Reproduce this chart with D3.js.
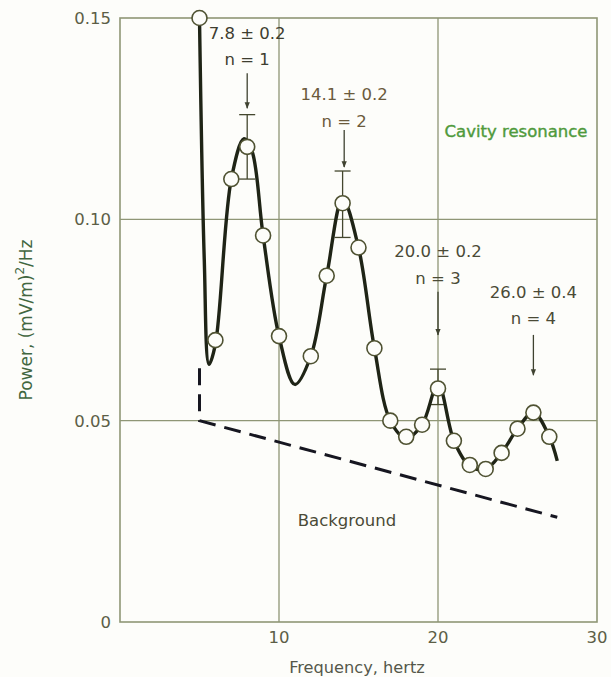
<!DOCTYPE html>
<html>
<head>
<meta charset="utf-8">
<script src="https://cdn.jsdelivr.net/npm/d3@7"></script>
<style>
  body { margin: 0; background: #fdfdfa; }
  text { font-family: "DejaVu Sans", sans-serif; }
</style>
</head>
<body>
<svg></svg>
<script>
// Chart size
const width = 611;
const height = 677;

// Measured points (frequency, power)
const freq = [5, 6, 7, 8, 9, 10, 12, 13, 14, 15, 16, 17, 18, 19, 20, 21, 22, 23, 24, 25, 26, 27];
const power = [0.150, 0.070, 0.110, 0.118, 0.096, 0.071, 0.066, 0.086, 0.104, 0.093, 0.068, 0.050, 0.046, 0.049, 0.058, 0.045, 0.039, 0.038, 0.042, 0.048, 0.052, 0.046];

// Hand drawn smooth curve through the points
const curveFreq = [5, 5.3, 5.6, 6, 7, 7.8, 8.3, 9, 10, 11, 12, 13, 14, 15, 16, 17, 18, 19, 20, 21, 22, 23, 24, 25, 26, 27, 27.5];
const curvePower = [0.150, 0.090, 0.064, 0.069, 0.110, 0.120, 0.117, 0.096, 0.071, 0.059, 0.066, 0.086, 0.105, 0.093, 0.068, 0.050, 0.0457, 0.049, 0.059, 0.045, 0.0387, 0.038, 0.042, 0.048, 0.052, 0.046, 0.040];

// Background (dashed)
const bgFreq = [5, 5, 27.5];
const bgPower = [0.063, 0.050, 0.026];

// Error bars
const errFreq = [8, 14, 20];
const errLow = [0.110, 0.0955, 0.054];
const errHigh = [0.126, 0.112, 0.0628];

// Resonance annotations
const resFreq = [8, 14.1, 20, 26];
const resLabel = ["7.8 \u00b1 0.2", "14.1 \u00b1 0.2", "20.0 \u00b1 0.2", "26.0 \u00b1 0.4"];
const resMode = ["n = 1", "n = 2", "n = 3", "n = 4"];
const resTextTop = [0.1448, 0.1296, 0.0906, 0.0805];   // baseline of first text line
const resArrowFrom = [0.1363, 0.1222, 0.0820, 0.0713];
const resArrowTo = [0.1276, 0.1130, 0.0713, 0.0613];
const resColor = ["#3e3e30", "#6b5a3c", "#4a4a36", "#4a4a36"];

// Axis ticks
const xTicks = [10, 20, 30];
const yTicks = [0, 0.05, 0.10, 0.15];

const svg = d3.select("svg")
  .attr("width", width)
  .attr("height", height);

const x = d3.scaleLinear().domain([0, 30]).range([120, 597]);
const y = d3.scaleLinear().domain([0, 0.15]).range([622, 18]);

const gridColor = "#8f9676";
const inkColor = "#1f2416";

// Grid lines
svg.append("g")
  .selectAll("line")
  .data(xTicks.slice(0, 2))
  .enter().append("line")
  .attr("x1", d => x(d)).attr("x2", d => x(d))
  .attr("y1", y(0)).attr("y2", y(0.15))
  .attr("stroke", gridColor).attr("stroke-width", 1.3);

svg.append("g")
  .selectAll("line")
  .data(yTicks.slice(1, 3))
  .enter().append("line")
  .attr("x1", x(0)).attr("x2", x(30))
  .attr("y1", d => y(d)).attr("y2", d => y(d))
  .attr("stroke", gridColor).attr("stroke-width", 1.3);

// Frame
svg.append("rect")
  .attr("x", x(0)).attr("y", y(0.15))
  .attr("width", x(30) - x(0)).attr("height", y(0) - y(0.15))
  .attr("fill", "none")
  .attr("stroke", gridColor).attr("stroke-width", 1.6);

// Tick labels
svg.append("g")
  .selectAll("text")
  .data(yTicks)
  .enter().append("text")
  .attr("x", 111)
  .attr("y", d => y(d) + 6)
  .attr("text-anchor", "end")
  .attr("font-size", 16.5)
  .attr("fill", "#5c5e46")
  .text(d => d === 0 ? "0" : d.toFixed(2));

svg.append("g")
  .selectAll("text")
  .data(xTicks)
  .enter().append("text")
  .attr("x", d => x(d))
  .attr("y", 643)
  .attr("text-anchor", "middle")
  .attr("font-size", 16.5)
  .attr("fill", "#5c5e46")
  .text(d => d);

// Axis titles
svg.append("text")
  .attr("x", 357)
  .attr("y", 673)
  .attr("text-anchor", "middle")
  .attr("font-size", 16.2)
  .attr("fill", "#55584a")
  .text("Frequency, hertz");

const yTitle = svg.append("text")
  .attr("transform", "translate(32, 320) rotate(-90)")
  .attr("text-anchor", "middle")
  .attr("font-size", 17)
  .attr("fill", "#41663f");
yTitle.append("tspan").text("Power, (mV/m)");
yTitle.append("tspan").attr("font-size", 12).attr("dy", -8).text("2");
yTitle.append("tspan").attr("dy", 8).text("/Hz");

// Background dashed line
const bgData = bgFreq.map((f, i) => [f, bgPower[i]]);
svg.append("path")
  .datum(bgData)
  .attr("d", d3.line().x(d => x(d[0])).y(d => y(d[1])))
  .attr("fill", "none")
  .attr("stroke", "#161620")
  .attr("stroke-width", 3)
  .attr("stroke-dasharray", "17,9");

// Error bars
errFreq.forEach((f, i) => {
  const g = svg.append("g").attr("stroke", "#44472e").attr("stroke-width", 1.3);
  g.append("line")
    .attr("x1", x(f)).attr("x2", x(f))
    .attr("y1", y(errHigh[i])).attr("y2", y(errLow[i]));
  [errHigh[i], errLow[i]].forEach(v => {
    g.append("line")
      .attr("x1", x(f) - 8).attr("x2", x(f) + 8)
      .attr("y1", y(v)).attr("y2", y(v));
  });
});

// Smooth curve
const curveData = curveFreq.map((f, i) => [f, curvePower[i]]);
svg.append("path")
  .datum(curveData)
  .attr("d", d3.line()
    .x(d => x(d[0]))
    .y(d => y(d[1]))
    .curve(d3.curveCatmullRom.alpha(0.5)))
  .attr("fill", "none")
  .attr("stroke", inkColor)
  .attr("stroke-width", 3.4);

// Data circles
svg.append("g")
  .selectAll("circle")
  .data(freq.map((f, i) => [f, power[i]]))
  .enter().append("circle")
  .attr("cx", d => x(d[0]))
  .attr("cy", d => y(d[1]))
  .attr("r", 7.5)
  .attr("fill", "#fdfdfa")
  .attr("stroke", "#4f5232")
  .attr("stroke-width", 1.6);

// Resonance annotations
svg.append("defs").append("marker")
  .attr("id", "head")
  .attr("viewBox", "0 0 10 10")
  .attr("refX", 9).attr("refY", 5)
  .attr("markerWidth", 5).attr("markerHeight", 6)
  .attr("orient", "auto")
  .append("path")
  .attr("d", "M0,1 L10,5 L0,9 Z")
  .attr("fill", "#3f4230");

resFreq.forEach((f, i) => {
  svg.append("text")
    .attr("x", x(f)).attr("y", y(resTextTop[i]))
    .attr("text-anchor", "middle")
    .attr("font-size", 16.5)
    .attr("fill", resColor[i])
    .text(resLabel[i]);
  svg.append("text")
    .attr("x", x(f)).attr("y", y(resTextTop[i]) + 26.5)
    .attr("text-anchor", "middle")
    .attr("font-size", 16.5)
    .attr("fill", resColor[i])
    .text(resMode[i]);
  svg.append("line")
    .attr("x1", x(f)).attr("x2", x(f))
    .attr("y1", y(resArrowFrom[i])).attr("y2", y(resArrowTo[i]))
    .attr("stroke", "#3f4230").attr("stroke-width", 1.3)
    .attr("marker-end", "url(#head)");
});

// Region labels
svg.append("text")
  .attr("x", 516).attr("y", 137)
  .attr("text-anchor", "middle")
  .attr("font-size", 16.5)
  .attr("fill", "#4f9a3c")
  .attr("stroke", "#4f9a3c")
  .attr("stroke-width", 0.4)
  .text("Cavity resonance");

svg.append("text")
  .attr("x", 347).attr("y", 526)
  .attr("text-anchor", "middle")
  .attr("font-size", 16.5)
  .attr("fill", "#4a4a36")
  .text("Background");
</script>
</body>
</html>
